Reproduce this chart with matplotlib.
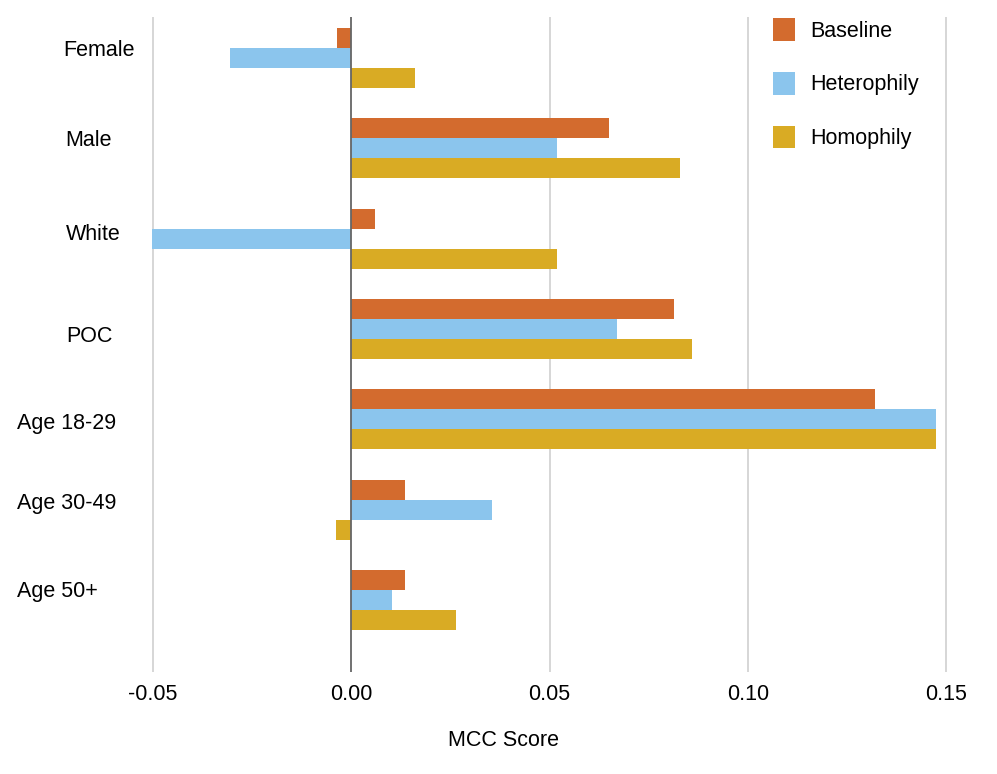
import matplotlib
matplotlib.use('Agg')
import matplotlib.pyplot as plt
from matplotlib import font_manager
import numpy as np

categories = ['Female', 'Male', 'White', 'POC', 'Age 18-29', 'Age 30-49', 'Age 50+']
baseline = [-0.0035, 0.0650, 0.0060, 0.0813, 0.1320, 0.0136, 0.0136]
heterophily = [-0.0306, 0.0518, -0.0503, 0.0669, 0.1475, 0.0356, 0.0104]
homophily = [0.0162, 0.0828, 0.0518, 0.0859, 0.1475, -0.0038, 0.0265]
series_names = ['Baseline', 'Heterophily', 'Homophily']
xticks = [-0.05, 0.00, 0.05, 0.10, 0.15]

COLORS = ['#D36B2E', '#8BC5ED', '#D9AB24']

# the original uses a condensed face; fall back to a smaller regular one
installed = {f.name for f in font_manager.fontManager.ttflist}
if 'Liberation Sans Narrow' in installed:
    FONT, FS = ['Liberation Sans Narrow', 'DejaVu Sans'], 17
else:
    FONT, FS = ['Liberation Sans', 'DejaVu Sans'], 15.5
plt.rcParams['font.family'] = FONT

W, H = 997, 774
fig = plt.figure(figsize=(W / 100, H / 100), dpi=100)
ax = fig.add_axes([149 / W, (H - 672) / H, 801 / W, 655 / H])

y = np.arange(len(categories))
bh = 0.221
for i, (vals, name) in enumerate(zip([baseline, heterophily, homophily], series_names)):
    ax.barh(y + (i - 1) * bh, vals, height=bh, color=COLORS[i], label=name, zorder=3)

ax.set_xlim(-0.051, 0.151)
ax.set_ylim(6.797, -0.454)
ax.set_xticks(xticks)
ax.set_xticklabels([f'{t:.2f}' for t in xticks], fontsize=FS)
ax.set_yticks([])
ax.tick_params(axis='x', length=0, pad=9)
for t in xticks:
    if t == 0:
        ax.axvline(t, color='#666666', lw=1.3, zorder=4)
    else:
        ax.axvline(t, color='#D0D0D0', lw=1.2, zorder=1)
for s in ax.spines.values():
    s.set_visible(False)

# category labels placed like the original (pixel coords: left x, centre y)
label_pos = [(63, 50), (65, 140), (66, 235), (66, 337), (17, 424), (17, 503), (17, 592)]
for name, (px, py) in zip(categories, label_pos):
    fig.text(px / W, 1 - py / H, name, fontsize=FS, ha='left', va='center')

fig.text(503 / W, 1 - 741 / H, 'MCC Score', fontsize=FS, ha='center', va='center')

ax.legend(loc='upper left', bbox_to_anchor=(773 / W, 1 - 18 / H), bbox_transform=fig.transFigure,
          frameon=False, fontsize=FS, handlelength=1.0, handleheight=1.25,
          handletextpad=0.75, labelspacing=1.4, borderaxespad=0, borderpad=0)

fig.savefig('out.png', dpi=100)
